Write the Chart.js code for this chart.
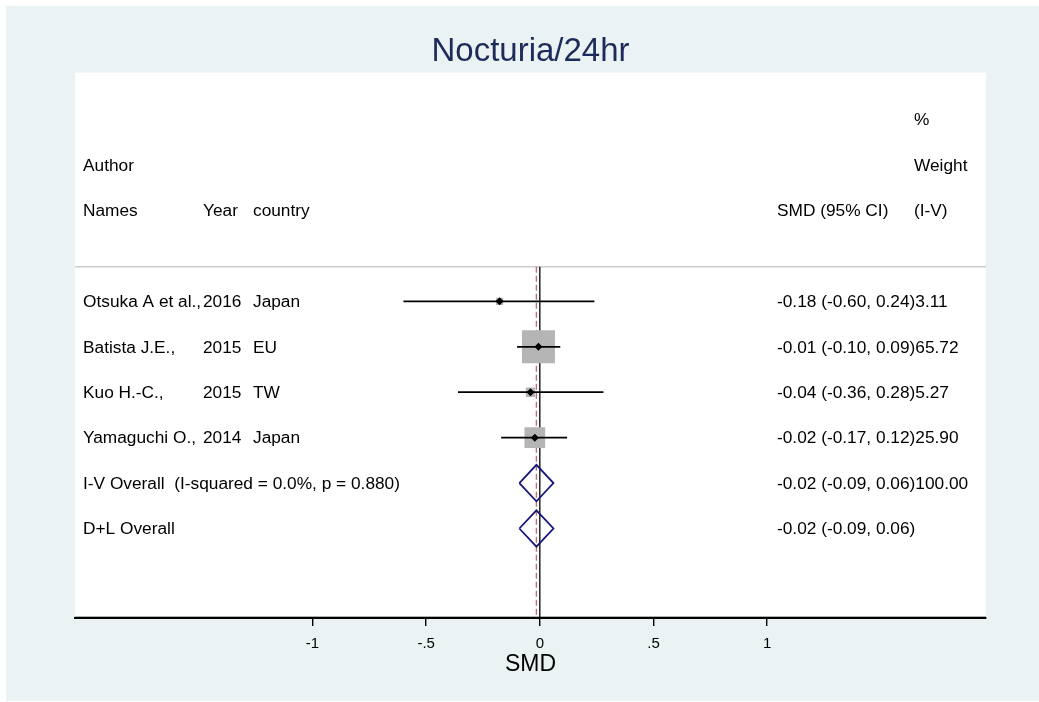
<!DOCTYPE html>
<html>
<head>
<meta charset="utf-8">
<script src="https://cdn.jsdelivr.net/npm/chart.js@4.4.1/dist/chart.umd.min.js"></script>
<style>
  html, body { margin: 0; padding: 0; background: #fff; }
  #wrap { width: 1039px; height: 702px; }
</style>
</head>
<body>
<div id="wrap"><canvas id="forest" width="1039" height="702"></canvas></div>
<script>
// study rows
const authors   = ['Otsuka A et al.,', 'Batista J.E.,', 'Kuo H.-C.,', 'Yamaguchi O.,'];
const years     = ['2016', '2015', '2015', '2014'];
const countries = ['Japan', 'EU', 'TW', 'Japan'];
const smd       = [-0.177, -0.006, -0.041, -0.022];
const ciLow     = [-0.60, -0.10, -0.36, -0.17];
const ciHigh    = [0.24, 0.09, 0.28, 0.12];
const weights   = [3.11, 65.72, 5.27, 25.90];
const ciText    = ['-0.18 (-0.60, 0.24)', '-0.01 (-0.10, 0.09)', '-0.04 (-0.36, 0.28)', '-0.02 (-0.17, 0.12)'];

// pooled rows
const overallLabels = ['I-V Overall  (I-squared = 0.0%, p = 0.880)', 'D+L Overall'];
const overallEst    = [-0.015, -0.015];
const overallLow    = [-0.09, -0.09];
const overallHigh   = [0.06, 0.06];
const overallText   = ['-0.02 (-0.09, 0.06)100.00', '-0.02 (-0.09, 0.06)'];

// axis
const xTicks      = [-1, -0.5, 0, 0.5, 1];
const xTickLabels = ['-1', '-.5', '0', '.5', '1'];
const nullValue   = 0;

// row slots (y scale units): header rows 0..2, studies from 4, pooled after
const studyRow   = authors.map((a, i) => 4 + i);
const overallRow = overallLabels.map((a, i) => 4 + authors.length + i);
const ruleRow    = 3.24;
const yMin = -1.035, yMax = 10.97;

const FONT = "'Liberation Sans', Arial, sans-serif";
const BG = '#eaf2f3';
const bigSquare = 33;     // px side of the heaviest study's box
const maxW = Math.max(...weights);
const diamondHalf = 0.4;  // half height of pooled diamond, in rows

const datasets = [];

// reference lines
datasets.push({
  type: 'line', order: 6,
  data: [{x: nullValue, y: ruleRow}, {x: nullValue, y: yMax}],
  borderColor: '#000', borderWidth: 1.3, pointRadius: 0
});
datasets.push({
  type: 'line', order: 6,
  data: [{x: overallEst[0], y: ruleRow}, {x: overallEst[0], y: yMax}],
  borderColor: '#b8707c', borderWidth: 1.4, borderDash: [6, 3], pointRadius: 0
});

// weight boxes
datasets.push({
  type: 'scatter', order: 4,
  data: smd.map((v, i) => ({x: v, y: studyRow[i]})),
  pointStyle: 'rect',
  pointRadius: weights.map(w => bigSquare * Math.sqrt(w / maxW) / Math.SQRT2),
  backgroundColor: '#b5b5b5', borderWidth: 0
});

// confidence intervals
smd.forEach((v, i) => {
  datasets.push({
    type: 'line', order: 3,
    data: [{x: ciLow[i], y: studyRow[i]}, {x: ciHigh[i], y: studyRow[i]}],
    borderColor: '#000', borderWidth: 1.8, pointRadius: 0
  });
});

// pooled diamonds
overallEst.forEach((v, i) => {
  const r = overallRow[i];
  datasets.push({
    type: 'line', order: 2,
    data: [
      {x: overallLow[i], y: r}, {x: v, y: r - diamondHalf},
      {x: overallHigh[i], y: r}, {x: v, y: r + diamondHalf},
      {x: overallLow[i], y: r}
    ],
    borderColor: '#16167a', borderWidth: 1.8, pointRadius: 0, tension: 0,
    borderJoinStyle: 'miter'
  });
});

// point estimates
datasets.push({
  type: 'scatter', order: 1,
  data: smd.map((v, i) => ({x: v, y: studyRow[i]})),
  pointStyle: 'rectRot', pointRadius: 4,
  backgroundColor: '#000', borderWidth: 0
});

const backdrop = {
  id: 'backdrop',
  beforeDraw(chart) {
    const {ctx, chartArea: a} = chart;
    ctx.save();
    ctx.fillStyle = '#fff';
    ctx.fillRect(0, 0, chart.width, chart.height);
    ctx.fillStyle = BG;
    ctx.fillRect(6, 6, chart.width - 6, chart.height - 7);
    ctx.fillStyle = '#fff';
    ctx.fillRect(a.left, a.top, a.right - a.left, a.bottom - a.top);
    // separator under the header
    const y = chart.scales.y.getPixelForValue(ruleRow);
    ctx.strokeStyle = '#cccccc';
    ctx.lineWidth = 1.5;
    ctx.beginPath();
    ctx.moveTo(a.left, y);
    ctx.lineTo(a.right, y);
    ctx.stroke();
    ctx.strokeStyle = '#b0b0b0';
    ctx.lineWidth = 1;
    ctx.beginPath();
    ctx.moveTo(a.left, a.bottom - 1.5);
    ctx.lineTo(a.right, a.bottom - 1.5);
    ctx.stroke();
    ctx.restore();
  }
};

const columns = {
  id: 'columns',
  afterDatasetsDraw(chart) {
    const {ctx, chartArea: a} = chart;
    const ys = chart.scales.y;
    const colName = a.left + 8, colYear = a.left + 128, colCountry = a.left + 178;
    const colCI = 777, colW = 914;
    ctx.save();
    ctx.font = '17.3px ' + FONT;
    ctx.fillStyle = '#000';
    ctx.textBaseline = 'middle';
    ctx.textAlign = 'left';
    const put = (t, x, row) => ctx.fillText(t, x, ys.getPixelForValue(row) + 1);
    put('%', colW, 0);
    put('Author', colName, 1);
    put('Weight', colW, 1);
    put('Names', colName, 2);
    put('Year', colYear, 2);
    put('country', colCountry, 2);
    put('SMD (95% CI)', colCI, 2);
    put('(I-V)', colW, 2);
    authors.forEach((n, i) => {
      put(n, colName, studyRow[i]);
      put(years[i], colYear, studyRow[i]);
      put(countries[i], colCountry, studyRow[i]);
      put(ciText[i] + weights[i].toFixed(2), colCI, studyRow[i]);
    });
    overallLabels.forEach((n, i) => {
      put(n, colName, overallRow[i]);
      put(overallText[i], colCI, overallRow[i]);
    });
    ctx.restore();
  }
};

new Chart(document.getElementById('forest'), {
  type: 'scatter',
  data: {datasets},
  plugins: [backdrop, columns],
  options: {
    responsive: false,
    animation: false,
    events: [],
    layout: {padding: {left: 75, right: 53, top: 0, bottom: 0}},
    plugins: {
      legend: {display: false},
      tooltip: {enabled: false},
      title: {
        display: true,
        text: 'Nocturia/24hr',
        color: '#1c2b5a',
        font: {family: FONT, size: 33, weight: 'normal'},
        padding: {top: 32, bottom: 1}
      }
    },
    scales: {
      x: {
        type: 'linear',
        min: -2.045, max: 1.963,
        afterBuildTicks: s => { s.ticks = xTicks.map(v => ({value: v})); },
        afterFit: s => { s.height = 84; },
        ticks: {
          color: '#000', padding: 8.6,
          font: {family: FONT, size: 15},
          callback: (v) => xTickLabels[xTicks.indexOf(v)]
        },
        grid: {drawOnChartArea: false, drawTicks: true, tickLength: 8, color: '#000', lineWidth: 1.4},
        border: {display: true, color: '#000', width: 2},
        title: {
          display: true, text: 'SMD', color: '#000',
          font: {family: FONT, size: 23},
          padding: {top: 0, bottom: 24}
        }
      },
      y: {
        type: 'linear', display: false, reverse: true,
        min: yMin, max: yMax
      }
    }
  }
});
</script>
</body>
</html>
